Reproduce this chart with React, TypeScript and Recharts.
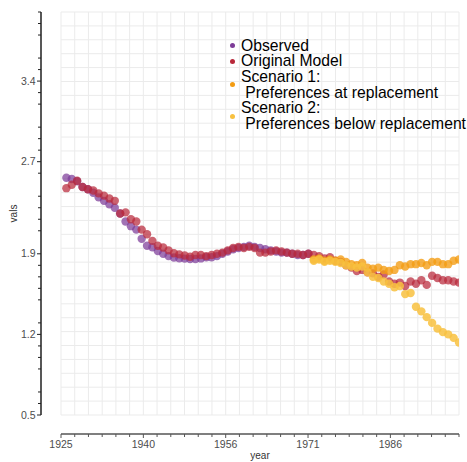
import { ScatterChart, Scatter, XAxis, YAxis, CartesianGrid, Label } from "recharts";

// yearly total fertility values
const observedYears = [
  1926, 1927, 1928, 1929, 1930, 1931, 1932, 1933, 1934, 1935, 1936, 1937,
  1938, 1939, 1940, 1941, 1942, 1943, 1944, 1945, 1946, 1947, 1948, 1949,
  1950, 1951, 1952, 1953, 1954, 1955, 1956, 1957, 1958, 1959, 1960, 1961,
  1962, 1963, 1964, 1965, 1966, 1967, 1968, 1969, 1970, 1971,
];
const scenarioYears = [
  1972, 1973, 1974, 1975, 1976, 1977, 1978, 1979, 1980, 1981, 1982, 1983,
  1984, 1985, 1986, 1987, 1988, 1989, 1990, 1991, 1992, 1993, 1994, 1995,
  1996, 1997, 1998, 1999,
];
const modelYears = [...observedYears, ...scenarioYears];

const observedVals = [
  2.56, 2.55, 2.53, 2.48, 2.46, 2.43, 2.39, 2.36, 2.33, 2.3, 2.25, 2.18,
  2.14, 2.11, 2.03, 1.97, 1.957, 1.924, 1.9, 1.88, 1.868, 1.862, 1.858, 1.855,
  1.855, 1.86, 1.87, 1.87, 1.88, 1.9, 1.92, 1.94, 1.95, 1.96, 1.97, 1.96,
  1.95, 1.94, 1.93, 1.92, 1.91, 1.91, 1.9, 1.89, 1.89, 1.9,
];
const modelVals = [
  2.47, 2.5, 2.535, 2.48, 2.46, 2.45, 2.425, 2.405, 2.38, 2.36, 2.25, 2.26,
  2.2, 2.18, 2.11, 2.07, 2.012, 1.97, 1.955, 1.93, 1.905, 1.895, 1.885, 1.875,
  1.89, 1.89, 1.88, 1.89, 1.9, 1.91, 1.93, 1.95, 1.96, 1.95, 1.96, 1.95,
  1.91, 1.91, 1.92, 1.93, 1.92, 1.91, 1.9, 1.9, 1.89, 1.9,
  1.89, 1.88, 1.86, 1.87, 1.84, 1.83, 1.8, 1.78, 1.75, 1.76, 1.74, 1.73,
  1.7, 1.72, 1.66, 1.64, 1.65, 1.62, 1.66, 1.64, 1.67, 1.63, 1.71, 1.69,
  1.67, 1.67, 1.66, 1.65,
];
const scenario1Vals = [
  1.85, 1.86, 1.84, 1.85, 1.84, 1.85, 1.83, 1.81, 1.8, 1.82, 1.78, 1.77,
  1.78, 1.76, 1.75, 1.76, 1.8, 1.79, 1.81, 1.81, 1.82, 1.8, 1.83, 1.83,
  1.81, 1.81, 1.84, 1.85,
];
const scenario2Vals = [
  1.84, 1.85, 1.83, 1.84, 1.83, 1.82, 1.8, 1.79, 1.78, 1.79, 1.74, 1.7,
  1.69, 1.66, 1.64, 1.61, 1.62, 1.55, 1.56, 1.44, 1.4, 1.35, 1.3, 1.25,
  1.22, 1.2, 1.17, 1.13,
];

const xTickLabels = ["1925", "1940", "1956", "1971", "1986"];
const yTickLabels = [0.5, 1.2, 1.9, 2.7, 3.4];
const yMinorTicks = [
  0.6, 0.7, 0.9, 1.0, 1.1, 1.3, 1.5, 1.6, 1.7, 1.8, 2.1, 2.2, 2.3, 2.4, 2.6,
  2.8, 2.9, 3.0, 3.2, 3.3, 3.5, 3.6, 3.8, 3.9, 4.0,
];

const X_MIN = 1925;
const X_MAX = 1999;
const Y_MIN = 0.5;
const Y_MAX = 4.0;
const STEPS = 29;

const xTicks = Array.from({ length: STEPS + 1 }, (_, i) => X_MIN + ((X_MAX - X_MIN) * i) / STEPS);
const yTicks = [...yTickLabels, ...yMinorTicks].sort((a, b) => a - b);
const yGrid = Array.from({ length: STEPS + 1 }, (_, i) => Y_MIN + ((Y_MAX - Y_MIN) * i) / STEPS);

const toPoints = (years: number[], vals: number[]) =>
  years.map((year, i) => ({ year, val: vals[i] }));

const series = [
  { name: "Observed", data: toPoints(observedYears, observedVals), color: "#7d3c98", opacity: 0.72 },
  { name: "Original Model", data: toPoints(modelYears, modelVals), color: "#b8283a", opacity: 0.72 },
  { name: "Scenario 1:\n Preferences at replacement", data: toPoints(scenarioYears, scenario1Vals), color: "#f39c12", opacity: 0.78 },
  { name: "Scenario 2:\n Preferences below replacement", data: toPoints(scenarioYears, scenario2Vals), color: "#f8c140", opacity: 0.85 },
];

const FONT = "'Liberation Sans', Arial, sans-serif";
const AXIS_GAP = 19;

const XTick = (props: any) => {
  const { x, y, index } = props;
  const major = index % 6 === 0;
  return (
    <g>
      <line x1={x} x2={x} y1={y + AXIS_GAP} y2={y + AXIS_GAP + (major ? 4 : 3)} stroke="#555" strokeWidth={1} />
      {major && (
        <text x={x} y={y + AXIS_GAP + 14} textAnchor="middle" fontSize={10.5} fill="#4d4d4d" fontFamily={FONT}>
          {xTickLabels[index / 6]}
        </text>
      )}
    </g>
  );
};

const YTick = (props: any) => {
  const { x, y, payload } = props;
  const major = yTickLabels.some((v) => Math.abs(v - payload.value) < 1e-6);
  const ax = x - (AXIS_GAP + 1);
  return (
    <g>
      <line x1={ax} x2={ax - (major ? 4 : 3)} y1={y} y2={y} stroke="#222" strokeWidth={1} />
      {major && (
        <text x={ax - 5.5} y={y + 3.6} textAnchor="end" fontSize={10.5} fill="#4d4d4d" fontFamily={FONT}>
          {payload.value.toFixed(1)}
        </text>
      )}
    </g>
  );
};

const Dot = (color: string, opacity: number) => (props: any) =>
  <circle cx={props.cx} cy={props.cy} r={4.2} fill={color} fillOpacity={opacity} />;

const ChartLegend = () => (
  <div style={{ position: "absolute", left: 229.5, top: 37.5, fontFamily: FONT, fontSize: 15.7, lineHeight: "15.7px", color: "#000" }}>
    {series.map((s) => (
      <div key={s.name} style={{ display: "flex", alignItems: "center" }}>
        <span style={{ width: 5, height: 5, borderRadius: "50%", background: s.color, marginRight: 6.5 }} />
        <span style={{ whiteSpace: "pre" }}>{s.name}</span>
      </div>
    ))}
  </div>
);

export default function App() {
  return (
    <div style={{ position: "absolute", left: 0, top: 0, width: 467, height: 462, background: "#fff" }}>
      <ScatterChart width={467} height={462} margin={{ top: 12, right: 8, bottom: 0, left: 0 }}>
        <CartesianGrid stroke="#ebebeb" strokeWidth={1} horizontalValues={yGrid} verticalValues={xTicks} />
        <XAxis
          type="number"
          dataKey="year"
          domain={[X_MIN, X_MAX]}
          ticks={xTicks}
          interval={0}
          height={47}
          tickSize={0}
          tickMargin={0}
          tick={<XTick />}
          tickLine={false}
          axisLine={{ stroke: "#555", strokeWidth: 1.6, transform: `translate(0,${AXIS_GAP})` }}
          allowDataOverflow
        >
          <Label
            content={(p: any) => (
              <text x={p.viewBox.x + p.viewBox.width / 2} y={p.viewBox.y + p.viewBox.height - 3} textAnchor="middle" fontSize={10} fill="#333" fontFamily={FONT}>
                year
              </text>
            )}
          />
        </XAxis>
        <YAxis
          type="number"
          dataKey="val"
          domain={[Y_MIN, Y_MAX]}
          ticks={yTicks}
          interval={0}
          width={61}
          tickSize={0}
          tickMargin={0}
          tick={<YTick />}
          tickLine={false}
          axisLine={{ stroke: "#111", strokeWidth: 1.4, transform: `translate(-${AXIS_GAP + 1},0)` }}
          allowDataOverflow
        >
          <Label
            content={(p: any) => {
              const cx = 17;
              const cy = p.viewBox.y + p.viewBox.height / 2;
              return (
                <text x={cx} y={cy} transform={`rotate(-90, ${cx}, ${cy})`} textAnchor="middle" fontSize={10} fill="#333" fontFamily={FONT}>
                  vals
                </text>
              );
            }}
          />
        </YAxis>
        {series.map((s) => (
          <Scatter
            key={s.name}
            name={s.name}
            data={s.data}
            shape={Dot(s.color, s.opacity)}
            isAnimationActive={false}
          />
        ))}
      </ScatterChart>
      <ChartLegend />
    </div>
  );
}
